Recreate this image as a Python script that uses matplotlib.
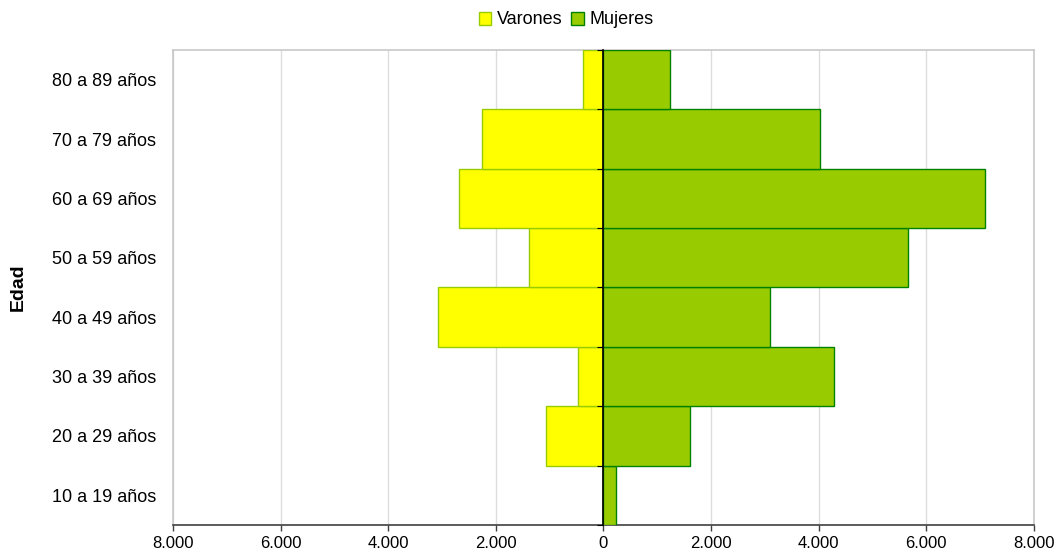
import numpy as np
import matplotlib
matplotlib.use("Agg")
import matplotlib.pyplot as plt
from matplotlib.ticker import FuncFormatter
from matplotlib.patches import Patch

plt.rcParams["font.family"] = ["Liberation Sans", "DejaVu Sans"]

# =========================
# DATA
# =========================

edades = [
    "10 a 19 años", "20 a 29 años", "30 a 39 años", "40 a 49 años",
    "50 a 59 años", "60 a 69 años", "70 a 79 años", "80 a 89 años",
]
varones = [0, 1060, 480, 3080, 1390, 2690, 2265, 390]
mujeres = [240, 1600, 4290, 3100, 5660, 7090, 4030, 1245]
x_ticks = [-8000, -6000, -4000, -2000, 0, 2000, 4000, 6000, 8000]

# =========================
# PLOT
# =========================

fig = plt.figure(figsize=(10.57, 5.59), dpi=100)
ax = fig.add_axes([0.1637, 0.0608, 0.8145, 0.8498])

y = np.arange(len(edades))

ax.barh(y, -np.array(varones), height=1.0, color="#FFFF00",
        edgecolor="#99CC00", linewidth=1.0, zorder=3)
ax.barh(y, mujeres, height=1.0, color="#99CC00",
        edgecolor="#008000", linewidth=1.0, zorder=3)

ax.set_xlim(-8000, 8000)
ax.set_ylim(-0.5, len(edades) - 0.5)

ax.set_xticks(x_ticks)
ax.xaxis.set_major_formatter(
    FuncFormatter(lambda v, p: f"{abs(int(v)):,}".replace(",", "."))
)
ax.grid(axis="x", color="#DDDDDD", linewidth=1.0, zorder=0)

ax.set_yticks(y)
ax.set_yticklabels(edades)
ax.tick_params(axis="y", length=0, pad=12, labelsize=13)
ax.tick_params(axis="x", length=4, width=1, color="#404040",
               labelsize=12, pad=4)

for s in ["top", "right", "left"]:
    ax.spines[s].set_color("#C8C8C8")
    ax.spines[s].set_linewidth(1.2)
ax.spines["bottom"].set_color("#404040")
ax.spines["bottom"].set_linewidth(1.2)

# eje central con marcas entre grupos
ax2 = ax.twinx()
ax2.set_ylim(ax.get_ylim())
ax2.spines["right"].set_position(("data", 0))
ax2.spines["right"].set_color("black")
ax2.spines["right"].set_linewidth(1.2)
ax2.spines["right"].set_zorder(5)
for s in ["top", "left", "bottom"]:
    ax2.spines[s].set_visible(False)
ax2.set_yticks(np.arange(-0.5, len(edades), 1.0))
ax2.set_yticklabels([])
ax2.tick_params(axis="y", direction="in", length=4, color="black")

ax.set_ylabel("Edad", fontsize=14, fontweight="bold")
ax.yaxis.set_label_coords(-0.170, 0.5)

handles = [
    Patch(facecolor="#FFFF00", edgecolor="#99CC00", label="Varones"),
    Patch(facecolor="#99CC00", edgecolor="#008000", label="Mujeres"),
]
fig.legend(handles=handles, loc="center", ncol=2, frameon=False,
           bbox_to_anchor=(566 / 1057, 1 - 20 / 559), fontsize=13,
           handlelength=0.7, handleheight=0.7, handletextpad=0.3,
           columnspacing=0.5)

plt.savefig("out.png", dpi=100)
